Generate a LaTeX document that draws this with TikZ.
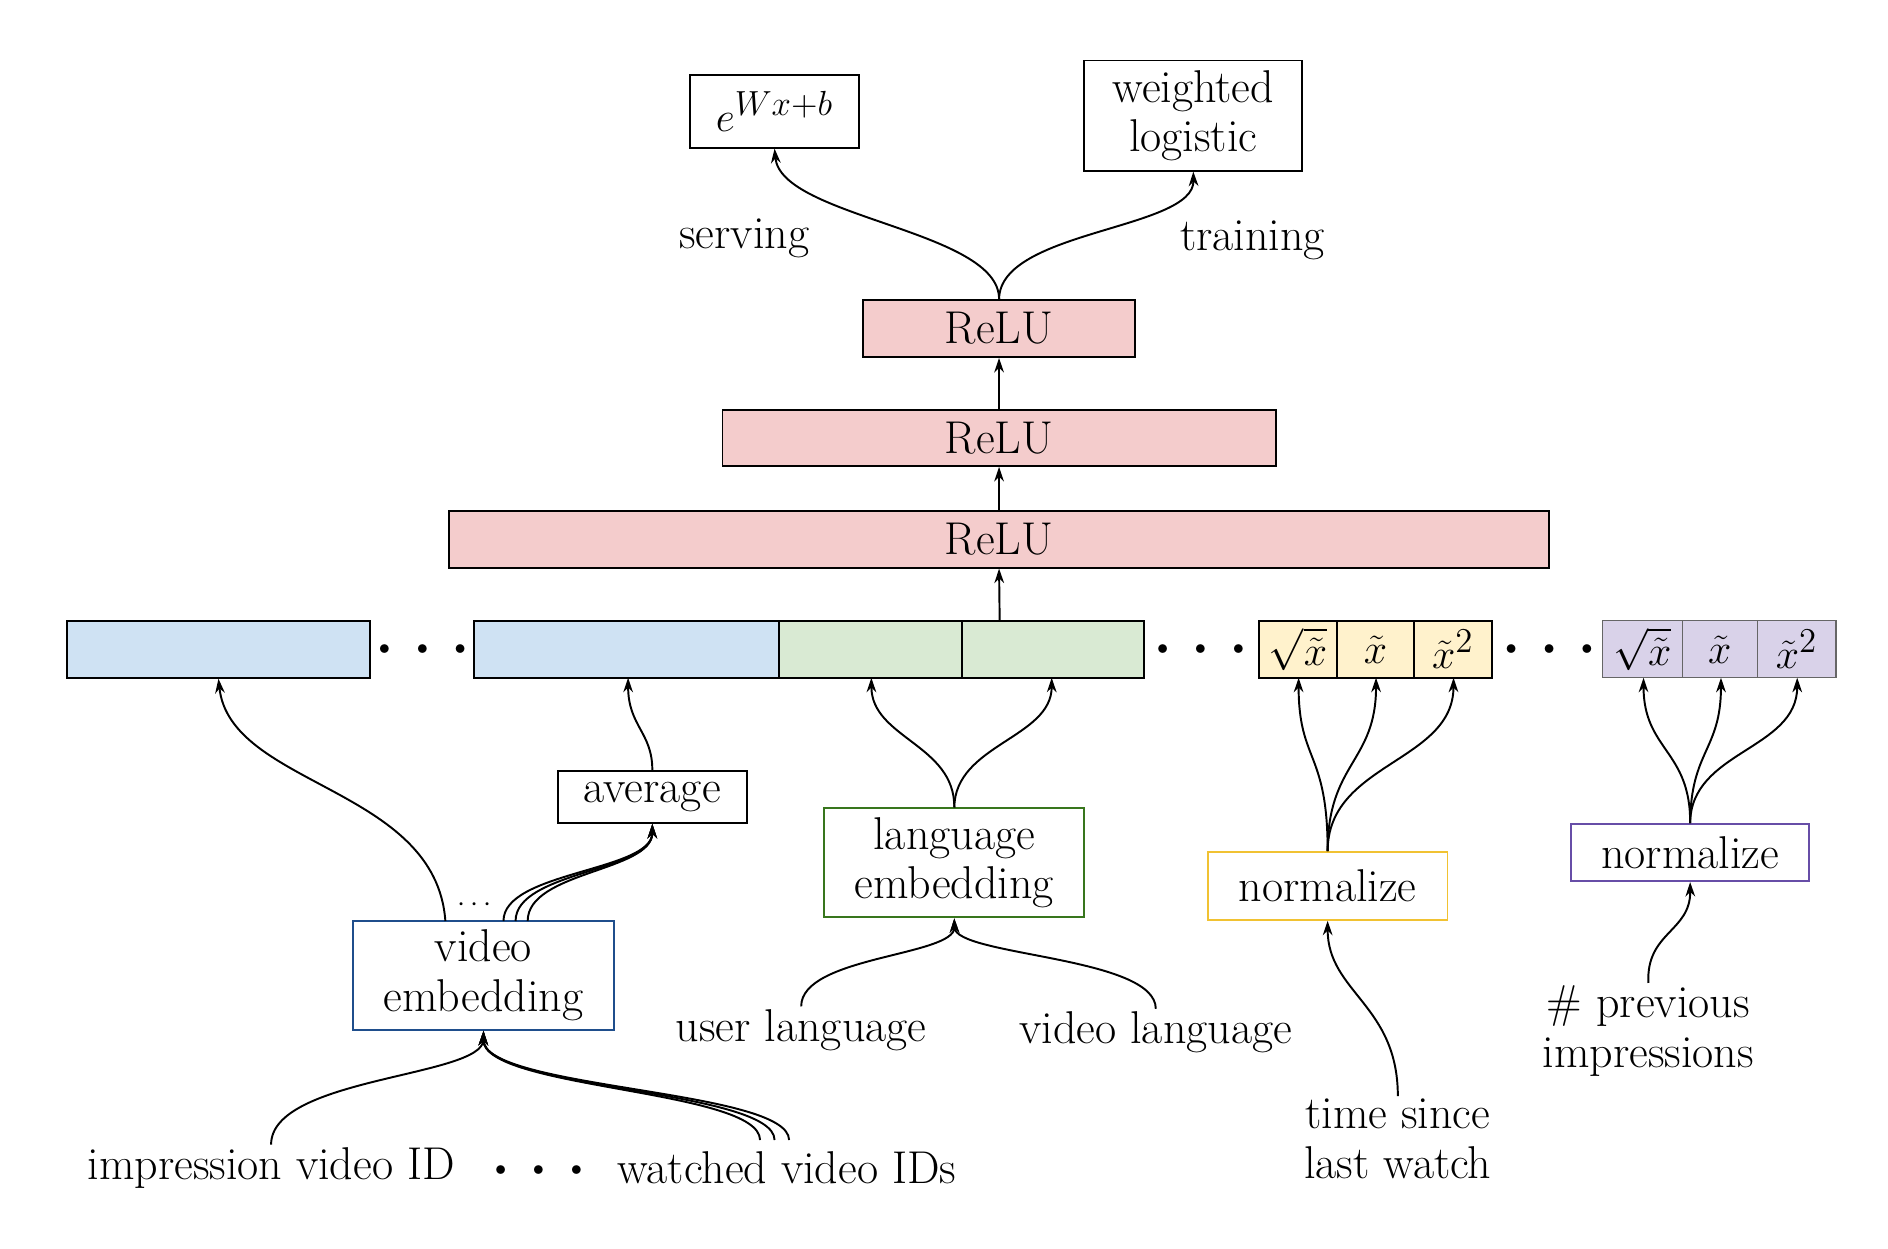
\documentclass[tikz,border=0pt]{standalone}
\usetikzlibrary{arrows.meta}
\definecolor{pk}{HTML}{F4CCCC}\definecolor{bl}{HTML}{CFE2F3}\definecolor{gr}{HTML}{D9EAD3}
\definecolor{ye}{HTML}{FFF2CC}\definecolor{pu}{HTML}{D9D2E9}
\definecolor{blb}{HTML}{1F4E8C}\definecolor{grb}{HTML}{38761D}\definecolor{yeb}{HTML}{F1C232}\definecolor{pub}{HTML}{674EA7}
\begin{document}
\begin{tikzpicture}[x=0.5pt,y=-0.5pt,
  every node/.style={font=\fontsize{19}{20.5}\selectfont},
  bx/.style={draw,line width=0.8pt,inner sep=0pt,align=center},
  ar/.style={-{Stealth[length=6pt,width=4pt]},line width=0.8pt},
  lbl/.style={align=center,inner sep=1pt},
  dts/.style={font=\fontsize{9}{9}\selectfont}]
\useasboundingbox (0,0) rectangle (1560,1032);
\def\B#1#2#3#4#5#6#7{\node[bx,#6,minimum width={(#3-#2)*0.5pt},minimum height={(#5-#4)*0.5pt}] (#1) at ({(#2+#3)/2},{(#4+#5)/2}) {#7};}
\B{ex}{570}{710}{62}{122}{}{$e^{Wx+b}$}
\B{wl}{896}{1076}{50}{141}{}{weighted\\logistic}
\node[lbl] (sv) at (615,197) {serving};
\node[lbl] (tr) at (1035,199) {training};
\B{r1}{713}{938}{248}{295}{fill=pk}{ReLU}
\B{r2}{597}{1054}{339}{385}{fill=pk}{ReLU}
\B{r3}{371}{1280}{422}{469}{fill=pk}{ReLU}
\B{b1}{55}{306}{513}{560}{fill=bl}{}
\B{b2}{392}{644}{513}{560}{fill=bl}{}
\B{g1}{644}{795}{513}{560}{fill=gr}{}
\B{g2}{795}{945}{513}{560}{fill=gr}{}
\B{y1}{1040}{1105}{513}{560}{fill=ye}{$\sqrt{\tilde x}$}
\B{y2}{1105}{1168}{513}{560}{fill=ye}{$\tilde x$}
\B{y3}{1168}{1233}{513}{560}{fill=ye}{$\tilde x^2$}
\B{p1}{1324}{1390}{513}{560}{fill=pu,draw=black!60,line width=0.5pt}{$\sqrt{\tilde x}$}
\B{p2}{1390}{1452}{513}{560}{fill=pu,draw=black!60,line width=0.5pt}{$\tilde x$}
\B{p3}{1452}{1517}{513}{560}{fill=pu,draw=black!60,line width=0.5pt}{$\tilde x^2$}
\node[dts] (d1) at (349,537) {$\bullet\quad\bullet\quad\bullet$};
\node[dts] (d2) at (992,537) {$\bullet\quad\bullet\quad\bullet$};
\node[dts] (d3) at (1280,537) {$\bullet\quad\bullet\quad\bullet$};
\coordinate (row) at (826,513);
\B{av}{461}{617}{637}{680}{}{average}
\B{le}{681}{896}{668}{758}{draw=grb}{language\\embedding}
\B{ny}{998}{1196}{704}{760}{draw=yeb}{normalize}
\B{np}{1298}{1495}{681}{728}{draw=pub}{normalize}
\B{ve}{292}{507}{761}{851}{draw=blb}{video\\embedding}
\node[lbl] (ul) at (662,851) {user language};
\node[lbl] (vl) at (955,853) {video language};
\node[lbl] (ts) at (1155,941) {time since\\last watch};
\node[lbl] (pi) at (1362,852) {\# previous\\impressions};
\node[lbl] (iv) at (224,965) {impression video ID};
\node[dts] (d4) at (445,967) {$\bullet\quad\bullet\quad\bullet$};
\node[lbl] (wv) at (650,965) {watched video IDs};
\node[font=\fontsize{12}{12}\selectfont] (d5) at (392,748) {$\cdots$};
% top
\draw[ar] (r1.north) .. controls (826,190) and (645,180) .. (ex.south);
\draw[ar] (r1.north) .. controls (826,190) and (987,190) .. (wl.south);
\draw[ar] (r2.north) -- (r1.south);
\draw[ar] (r3.north) -- (r2.south);
\draw[ar] (row) -- (r3.south);
% video
\draw[ar] (368,761) .. controls (360,650) and (190,650) .. (b1.south);
\foreach \s in {416,426,436}
  \draw[ar] (\s,761) .. controls (\s,720) and (539,720) .. (av.south);
\draw[ar] (av.north) .. controls (539,605) and (519,600) .. (519,560);
% language
\draw[ar] (le.north) .. controls (789,615) and (720,610) .. (720,560);
\draw[ar] (le.north) .. controls (789,615) and (869,610) .. (869,560);
\draw[ar] (ul.north) .. controls (662,790) and (789,790) .. (le.south);
\draw[ar] (vl.north) .. controls (955,790) and (789,790) .. (le.south);
% normalize yellow
\foreach \t/\c in {1073/620,1137/630,1201/630}
  \draw[ar] (ny.north) .. controls (1097,\c) and (\t,630) .. (\t,560);
\draw[ar] (ts.north) .. controls (1155,830) and (1097,820) .. (ny.south);
% purple
\foreach \t in {1358,1422,1485}
  \draw[ar] (np.north) .. controls (1397,620) and (\t,620) .. (\t,560);
\draw[ar] (pi.north) .. controls (1360,770) and (1397,770) .. (np.south);
% embedding inputs
\draw[ar] (iv.north) .. controls (224,890) and (399,890) .. (ve.south);
\foreach \s in {628,640,652}
  \draw[ar] (\s,942) .. controls (\s,900) and (399,900) .. (ve.south);
\end{tikzpicture}
\end{document}
